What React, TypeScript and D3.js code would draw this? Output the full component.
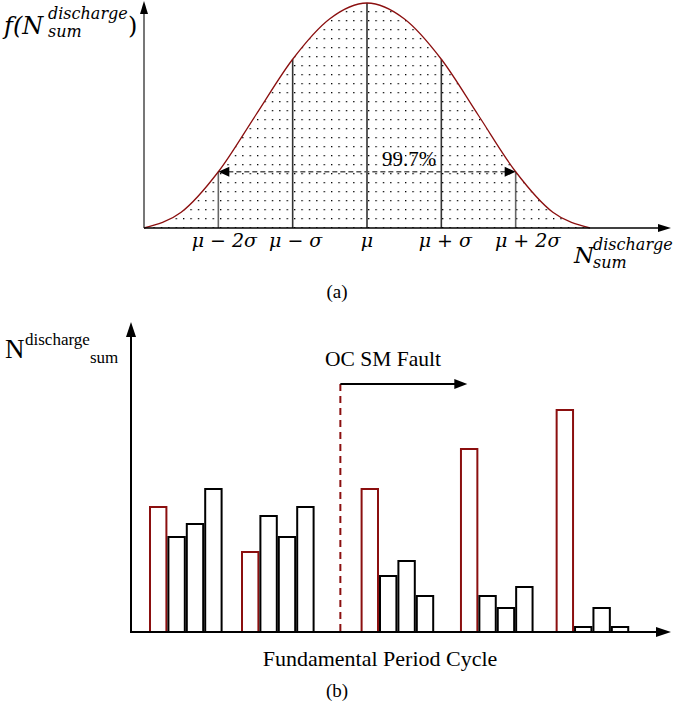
import React from 'react';
import * as d3 from 'd3';

// (a) density curve (x in sigma units, y relative to peak)
const sigmaOffsets = [-3, -2.5, -2, -1.5, -1, -0.5, 0, 0.5, 1, 1.5, 2, 2.5, 3]
const density = [0, 0.07, 0.25, 0.5, 0.75, 0.93, 1, 0.93, 0.75, 0.5, 0.25, 0.07, 0]
const markOffsets = [-2, -1, 0, 1, 2]
const markLabels = ['μ − 2σ', 'μ − σ', 'μ', 'μ + σ', 'μ + 2σ']

// (b) discharge counts per fundamental period cycle (first bar in each cycle is the red one)
const cycleStart = [0, 5, 11.5, 16.9, 22.1]
const cycleValues = [
  [125, 95, 108, 143],
  [80, 116, 95, 125],
  [143, 56, 71, 36],
  [183, 36, 24, 45],
  [222, 5, 24, 5],
]
const faultSlot = 10.4
const faultArrowEnd = 17.3

const red = '#8b0f0f'
const labelShift = [6, 3, 0, 4, 12]

const App = () => {
  // top chart scales
  const xA = d3.scaleLinear().domain([-3, 3]).range([144, 590])
  const yA = d3.scaleLinear().domain([0, 1]).range([228, 3])
  const pts: [number, number][] = sigmaOffsets.map((s, i) => [s, density[i]])
  const line = d3.line<[number, number]>().x(d => xA(d[0])).y(d => yA(d[1])).curve(d3.curveMonotoneX)
  const area = d3.area<[number, number]>().x(d => xA(d[0])).y0(yA(0)).y1(d => yA(d[1])).curve(d3.curveMonotoneX)
  const densAt = (s: number) => density[sigmaOffsets.indexOf(s)]

  // bottom chart scales
  const xB = d3.scaleLinear().domain([0, 28]).range([149, 149 + 28 * 18.4])
  const yB = d3.scaleLinear().domain([0, 250]).range([632, 382])
  const bw = xB(1) - xB(0)

  const mathFont = 'DejaVu Serif'
  const textFont = 'Liberation Serif'

  return (
    <svg width={674} height={710} style={{ position: 'absolute', left: 0, top: 0, background: '#fff' }}>
      <defs>
        <pattern id="dots" width={7.4} height={9} patternUnits="userSpaceOnUse" x={146} y={2}>
          <rect x={0} y={0} width={1.3} height={1.3} fill="#000" />
        </pattern>
      </defs>

      {/* ---------- (a) ---------- */}
      <path d={area(pts) || ''} fill="url(#dots)" />
      {markOffsets.map(s => (
        <line key={s} x1={xA(s)} x2={xA(s)} y1={yA(0)} y2={yA(densAt(s))}
          stroke={s === 0 || Math.abs(s) === 1 ? '#333' : '#666'} strokeWidth={1.6} />
      ))}
      <path d={line(pts) || ''} fill="none" stroke={red} strokeWidth={1.3} />

      {/* 99.7% span */}
      <line x1={xA(-2) + 10} x2={xA(2) - 10} y1={yA(0.25)} y2={yA(0.25)}
        stroke="#555" strokeWidth={1.6} strokeDasharray="5,3" />
      <path d={`M${xA(-2)},${yA(0.25)} l11,-5 l0,10 z`} fill="#000" />
      <path d={`M${xA(2)},${yA(0.25)} l-11,-5 l0,10 z`} fill="#000" />
      <text x={409} y={166} fontFamily={textFont} fontSize={21} textAnchor="middle">99.7%</text>

      {/* axes */}
      <line x1={144} x2={144} y1={228} y2={10} stroke="#555" strokeWidth={1.6} />
      <path d="M144,1 l-4,13 l8,0 z" fill="#000" />
      <line x1={144} x2={660} y1={228} y2={228} stroke="#000" strokeWidth={1.6} />
      <path d="M671,228 l-13,-4 l0,8 z" fill="#000" />

      {markOffsets.map((s, i) => (
        <text key={s} x={xA(s) + labelShift[i]} y={247} fontFamily={mathFont} fontStyle="italic" fontSize={19} textAnchor="middle">
          {markLabels[i]}
        </text>
      ))}

      <text x={4} y={34} fontFamily={mathFont} fontStyle="italic" fontSize={24}>f(N</text>
      <text x={48} y={19} fontFamily={mathFont} fontStyle="italic" fontSize={16}>discharge</text>
      <text x={48} y={37} fontFamily={mathFont} fontStyle="italic" fontSize={16}>sum</text>
      <text x={128} y={34} fontFamily={mathFont} fontSize={24}>)</text>

      <text x={574} y={263} fontFamily={mathFont} fontStyle="italic" fontSize={23}>N</text>
      <text x={593} y={250} fontFamily={mathFont} fontStyle="italic" fontSize={16}>discharge</text>
      <text x={593} y={268} fontFamily={mathFont} fontStyle="italic" fontSize={16}>sum</text>

      <text x={337} y={298} fontFamily={textFont} fontSize={19} textAnchor="middle">(a)</text>

      {/* ---------- (b) ---------- */}
      {cycleValues.map((vals, g) => vals.map((v, j) => (
        <rect key={`${g}-${j}`} x={xB(cycleStart[g] + j) + 1} y={yB(v)} width={bw - 2} height={yB(0) - yB(v)}
          fill="#fff" stroke={j === 0 ? red : '#000'} strokeWidth={2} />
      )))}

      <line x1={xB(faultSlot)} x2={xB(faultSlot)} y1={384} y2={632} stroke={red} strokeWidth={2} strokeDasharray="7,5" />
      <line x1={xB(faultSlot)} x2={xB(faultArrowEnd) - 10} y1={384} y2={384} stroke="#000" strokeWidth={2} />
      <path d={`M${xB(faultArrowEnd)},384 l-13,-5 l0,10 z`} fill="#000" />
      <text x={325} y={366} fontFamily={textFont} fontSize={21.5}>OC SM Fault</text>

      <line x1={131} x2={131} y1={633} y2={335} stroke="#000" strokeWidth={2} />
      <path d="M131,322 l-5,15 l10,0 z" fill="#000" />
      <line x1={130} x2={660} y1={632} y2={632} stroke="#000" strokeWidth={2} />
      <path d="M671,632 l-15,-5 l0,10 z" fill="#000" />

      <text x={5} y={358} fontFamily={textFont} fontSize={27}>N</text>
      <text x={25} y={345} fontFamily={textFont} fontSize={17}>discharge</text>
      <text x={90} y={363} fontFamily={textFont} fontSize={17}>sum</text>

      <text x={380} y={666} fontFamily={textFont} fontSize={22} textAnchor="middle">Fundamental Period Cycle</text>
      <text x={337} y={697} fontFamily={textFont} fontSize={19} textAnchor="middle">(b)</text>
    </svg>
  )
}

export default App
